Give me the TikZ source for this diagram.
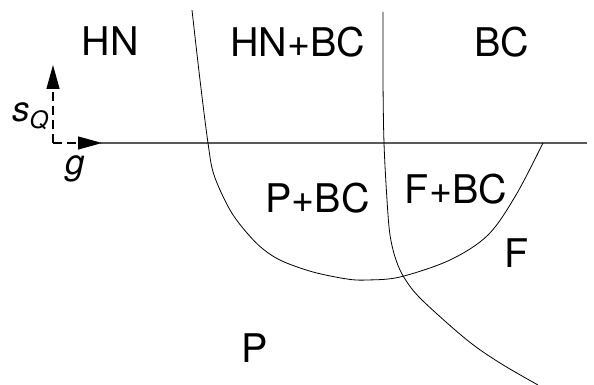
\documentclass[tikz,border=0pt]{standalone}
\usepackage{fontspec}
\setmainfont{TeX Gyre Heros}
\usetikzlibrary{arrows.meta}
\begin{document}
\begin{tikzpicture}[x=1pt,y=-1pt,
  region/.style={anchor=base,inner sep=0pt,font=\fontsize{39.5}{40}\selectfont},
  boundary/.style={line width=0.8pt,black},
  axisline/.style={line width=1.3pt,black!65},
  axisarrow/.style={line width=1.2pt,black,dash pattern=on 9pt off 5pt,-{Triangle[length=24pt,width=13pt]}}]
\useasboundingbox (0,0) rectangle (594,385);
% main horizontal line
\draw[axisline] (100,143) -- (587,143);
% axes arrows
\coordinate (O) at (53,143);
\coordinate (sq) at (53,65);
\coordinate (gg) at (102,143);
\draw[axisarrow] (O) -- (sq);
\draw[axisarrow] (O) -- (gg);
% U-shaped curve
\draw[boundary] plot[smooth,tension=0.55] coordinates {(192,10) (200,80) (208,143) (214,175) (230,210) (247,233) (263,249) (282,261) (313,272) (347,279) (367,280) (400,277) (450,260) (488,235) (516,195) (543,143)};
% near-vertical curve
\draw[boundary] plot[smooth,tension=0.55] coordinates {(383,12) (383,80) (384,143) (387,200) (390,235) (396,260) (405,279) (422,300) (467,340) (500,363) (538,385)};
% labels
\node[region] (hn) at (110.5,56) {HN};
\node[region] (hnbc) at (297.5,57) {HN+BC};
\node[region] (bc) at (502,57) {BC};
\node[region] (pbc) at (317.5,212) {P+BC};
\node[region] (fbc) at (456,203) {F+BC};
\node[region] (f) at (517,267) {F};
\node[region] (p) at (255,362) {P};
\node[anchor=base west,inner sep=0pt] (sQ) at (12,122) {\fontsize{35}{35}\selectfont\itshape s\raisebox{-6pt}{\fontsize{24}{24}\selectfont Q}};
\node[anchor=base,inner sep=0pt] (g) at (75,174) {\fontsize{35}{35}\selectfont\itshape g};
\end{tikzpicture}
\end{document}
